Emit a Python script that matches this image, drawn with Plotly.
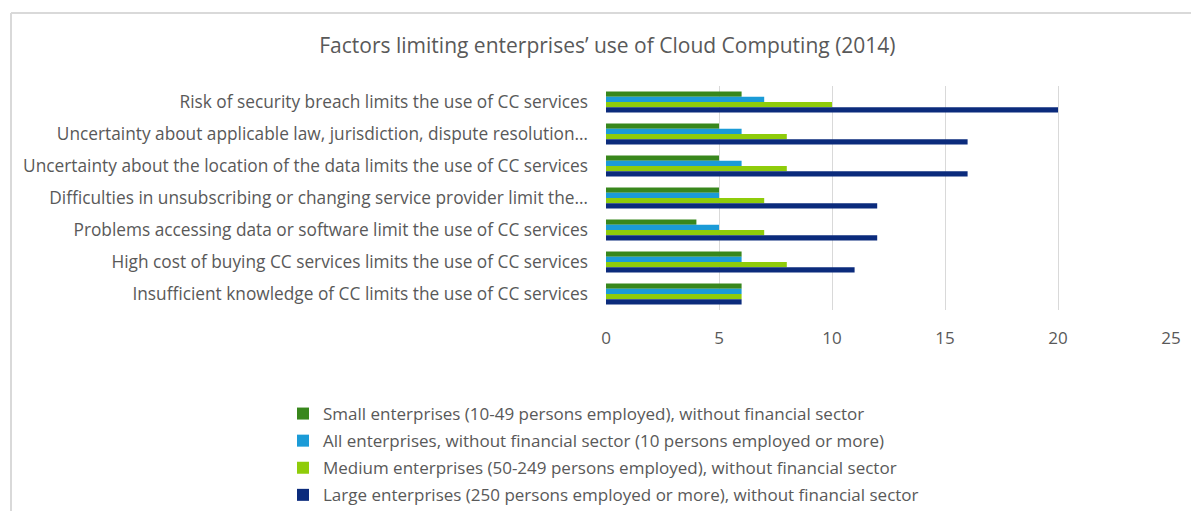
import plotly.graph_objects as go

# Survey factors, listed top to bottom as shown on the chart
factors = [
    "Risk of security breach limits the use of CC services",
    "Uncertainty about applicable law, jurisdiction, dispute resolution…",
    "Uncertainty about the location of the data limits the use of CC services",
    "Difficulties in unsubscribing or changing service provider limit the…",
    "Problems accessing data or software limit the use of CC services",
    "High cost of buying CC services limits the use of CC services",
    "Insufficient knowledge of CC limits the use of CC services",
]

series_names = [
    "Small enterprises (10-49 persons employed), without financial sector",
    "All enterprises, without financial sector (10 persons employed or more)",
    "Medium enterprises (50-249 persons employed), without financial sector",
    "Large enterprises (250 persons employed or more), without financial sector",
]

small_vals = [6, 5, 5, 5, 4, 6, 6]
all_vals = [7, 6, 6, 5, 5, 6, 6]
medium_vals = [10, 8, 8, 7, 7, 8, 6]
large_vals = [20, 16, 16, 12, 12, 11, 6]

x_ticks = [0, 5, 10, 15, 20, 25]

colors = ["#38871c", "#1b9bd7", "#8fcc0a", "#0b2b7c"]

W, H = 1191, 511
M_L, M_R, M_T, M_B = 606, 20, 86, 201
FONT = "'Open Sans', sans-serif"
GREY = "#595959"

fig = go.Figure()
for i, (name, vals, col) in enumerate(zip(series_names,
                                          [small_vals, all_vals, medium_vals, large_vals],
                                          colors)):
    fig.add_trace(go.Bar(
        y=factors, x=vals, name=name, orientation="h",
        legendgroup=f"g{i}",
        marker=dict(color=col, line=dict(width=0)),
    ))

# light frame around the chart area (top and left edges visible)
pw = W - M_L - M_R
ph = H - M_T - M_B
def px_to_paper_x(px):
    return (px - M_L) / pw
def px_to_paper_y(py):
    return (H - M_B - py) / ph

frame_line = dict(color="#d9d9d9", width=2)
fig.add_shape(type="line", xref="paper", yref="paper",
              x0=px_to_paper_x(11), x1=px_to_paper_x(W + 10),
              y0=px_to_paper_y(13), y1=px_to_paper_y(13), line=frame_line)
fig.add_shape(type="line", xref="paper", yref="paper",
              x0=px_to_paper_x(11), x1=px_to_paper_x(11),
              y0=px_to_paper_y(13), y1=px_to_paper_y(H + 10), line=frame_line)

fig.update_layout(
    width=W, height=H,
    margin=dict(l=M_L, r=M_R, t=M_T, b=M_B, autoexpand=False),
    paper_bgcolor="white", plot_bgcolor="white",
    barmode="group", bargap=0.34, bargroupgap=0,
    font=dict(family=FONT, color=GREY, size=17),
    title=dict(
        text="Factors limiting enterprises’ use of Cloud Computing (2014)",
        font=dict(family=FONT, size=21, color=GREY),
        xref="container", x=0.51, xanchor="center",
        yref="container", y=1 - 46 / H, yanchor="middle",
    ),
    xaxis=dict(
        range=[0, 25], tickvals=x_ticks, ticks="",
        showgrid=True, gridcolor="#d9d9d9", gridwidth=1,
        zeroline=False, showline=False, automargin=False,
        tickfont=dict(size=17, color=GREY),
        ticklabelstandoff=16,
    ),
    yaxis=dict(
        autorange="reversed", ticks="", showgrid=False,
        showline=False, zeroline=False, automargin=False,
        tickfont=dict(size=17.3, color=GREY),
        ticklabelstandoff=17,
    ),
    legend=dict(
        xref="container", yref="container",
        x=283 / W, y=1 - 396 / H, xanchor="left", yanchor="top",
        font=dict(size=17, color=GREY),
        bgcolor="rgba(0,0,0,0)",
        traceorder="grouped", tracegroupgap=2,
    ),
    showlegend=True,
)

fig.write_html("out.html")
